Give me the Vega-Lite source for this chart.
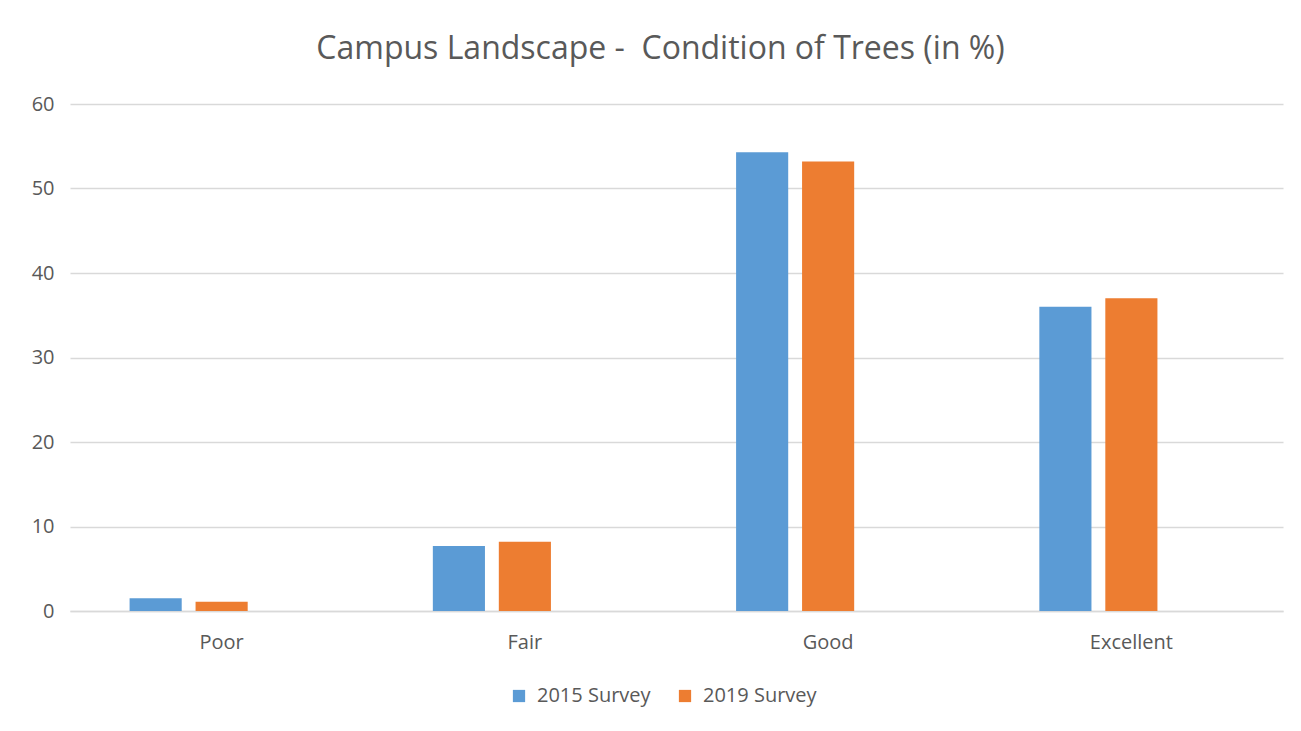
{
  "$schema": "https://vega.github.io/schema/vega-lite/v6.json",
  "width": 1213,
  "height": 507,
  "autosize": {"type": "none"},
  "padding": {"left": 70, "top": 104, "right": 18, "bottom": 120},
  "background": "white",
  "title": {
    "text": "Campus Landscape -\u00a0 Condition of Trees (in %)",
    "font": "Open Sans",
    "fontSize": 32,
    "fontWeight": "normal",
    "color": "#595959",
    "anchor": "middle",
    "dx": -16,
    "offset": 28
  },
  "data": {
    "values": [
      {"condition": "Poor", "survey": "2015 Survey", "value": 1.5},
      {"condition": "Poor", "survey": "2019 Survey", "value": 1.1},
      {"condition": "Fair", "survey": "2015 Survey", "value": 7.7},
      {"condition": "Fair", "survey": "2019 Survey", "value": 8.2},
      {"condition": "Good", "survey": "2015 Survey", "value": 54.3},
      {"condition": "Good", "survey": "2019 Survey", "value": 53.2},
      {"condition": "Excellent", "survey": "2015 Survey", "value": 36.0},
      {"condition": "Excellent", "survey": "2019 Survey", "value": 37.0}
    ]
  },
  "mark": {"type": "bar"},
  "encoding": {
    "x": {
      "field": "condition",
      "type": "nominal",
      "sort": ["Poor", "Fair", "Good", "Excellent"],
      "scale": {"paddingInner": 0.393, "paddingOuter": 0.1965},
      "axis": {
        "title": null,
        "labelAngle": 0,
        "labelFont": "Open Sans",
        "labelFontSize": 20,
        "labelColor": "#595959",
        "labelPadding": 21,
        "ticks": false,
        "domainColor": "#d9d9d9",
        "domainWidth": 1.5
      }
    },
    "xOffset": {
      "field": "survey",
      "type": "nominal",
      "scale": {"domain": ["2015 Survey", "2019 Survey", "(blank)"], "paddingInner": 0.21, "paddingOuter": 0}
    },
    "y": {
      "field": "value",
      "type": "quantitative",
      "scale": {"domain": [0, 60]},
      "axis": {
        "title": null,
        "values": [0, 10, 20, 30, 40, 50, 60],
        "labelFont": "Open Sans",
        "labelFontSize": 20,
        "labelColor": "#595959",
        "labelPadding": 16,
        "ticks": false,
        "domain": false,
        "gridColor": "#d9d9d9",
        "gridWidth": 1.5
      }
    },
    "color": {
      "field": "survey",
      "type": "nominal",
      "scale": {"domain": ["2015 Survey", "2019 Survey"], "range": ["#5b9bd5", "#ed7d31"]},
      "legend": {
        "title": null,
        "orient": "none",
        "legendX": 439,
        "legendY": 582,
        "direction": "horizontal",
        "symbolType": "square",
        "symbolSize": 150,
        "symbolStrokeWidth": 0,
        "labelFont": "Open Sans",
        "labelFontSize": 20,
        "labelColor": "#595959",
        "labelOffset": 8,
        "columnPadding": 24
      }
    }
  },
  "config": {"view": {"stroke": null}}
}
